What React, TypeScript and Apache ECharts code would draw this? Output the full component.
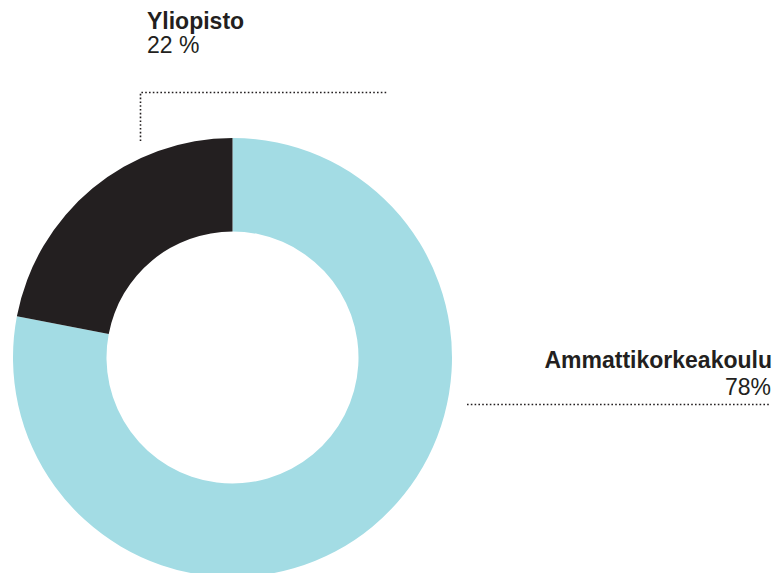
import React, { useEffect, useRef } from "react";
import * as echarts from "echarts";

const categories = ["Ammattikorkeakoulu", "Yliopisto"];
const values = [78, 22];
const valueLabels = ["78%", "22 %"];
const colors = ["#a3dce4", "#231f20"];

export default function App() {
  const ref = useRef<HTMLDivElement>(null);
  useEffect(() => {
    if (!ref.current) return;
    const chart = echarts.init(ref.current, null, { renderer: "svg" });
    const font = "'Liberation Sans', Arial, Helvetica, sans-serif";
    const textColor = "#231f20";
    const dot = { stroke: "#231f20", lineWidth: 1.6, lineDash: [1.6, 2.2], fill: null };
    chart.setOption({
      animation: false,
      backgroundColor: "#ffffff",
      series: [
        {
          type: "pie",
          center: [232.5, 357.5],
          radius: [126, 219.5],
          startAngle: 90,
          clockwise: true,
          label: { show: false },
          labelLine: { show: false },
          emphasis: { disabled: true },
          silent: true,
          itemStyle: { borderWidth: 0 },
          data: categories.map((c, i) => ({
            name: c,
            value: values[i],
            itemStyle: { color: colors[i] },
          })),
        },
      ],
      graphic: [
        {
          type: "text",
          x: 147,
          y: 21,
          style: {
            text: categories[1],
            font: `bold 23px ${font}`,
            fill: textColor,
            align: "left",
            verticalAlign: "middle",
          },
        },
        {
          type: "text",
          x: 147,
          y: 44.5,
          style: {
            text: valueLabels[1],
            font: `23px ${font}`,
            fill: textColor,
            align: "left",
            verticalAlign: "middle",
          },
        },
        {
          type: "polyline",
          shape: { points: [[140.5, 141], [140.5, 92.5], [387, 92.5]] },
          style: dot,
        },
        {
          type: "text",
          x: 772,
          y: 359.7,
          style: {
            text: categories[0],
            font: `bold 23px ${font}`,
            fill: textColor,
            align: "right",
            verticalAlign: "middle",
          },
        },
        {
          type: "text",
          x: 771,
          y: 387,
          style: {
            text: valueLabels[0],
            font: `23px ${font}`,
            fill: textColor,
            align: "right",
            verticalAlign: "middle",
          },
        },
        {
          type: "polyline",
          shape: { points: [[467, 404.5], [770, 404.5]] },
          style: dot,
        },
      ],
    });
    return () => chart.dispose();
  }, []);
  return (
    <div
      ref={ref}
      style={{ position: "absolute", left: 0, top: 0, width: 784, height: 573 }}
    />
  );
}
